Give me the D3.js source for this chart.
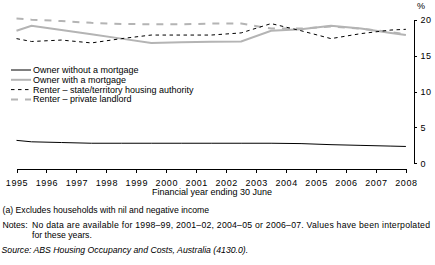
<!DOCTYPE html>
<html>
<head>
<meta charset="utf-8">
<script src="https://cdn.jsdelivr.net/npm/d3@7"></script>
<style>
  body { margin: 0; background: #fff; }
  svg { display: block; font-family: "Liberation Sans", Arial, sans-serif; }
  .axis path, .axis line { stroke: #000; stroke-width: 1; shape-rendering: crispEdges; }
  .axis text { font-size: 9px; fill: #000; }
</style>
</head>
<body>
<svg id="chart" width="435" height="265"></svg>
<script>
'use strict'

// data points sit mid-year apart from the two ends
const years = [1995, 1995.5, 1996.5, 1997.5, 1998.5, 1999.5, 2000.5, 2001.5, 2002.5, 2003.5, 2004.5, 2005.5, 2006.5, 2007.5, 2008]
const ownerNoMortgage = [3.2, 3.0, 2.9, 2.8, 2.8, 2.8, 2.8, 2.8, 2.8, 2.8, 2.75, 2.6, 2.5, 2.4, 2.35]
const ownerMortgage = [18.5, 19.2, 18.6, 18.0, 17.4, 16.8, 16.9, 16.95, 17.0, 18.5, 18.7, 19.2, 18.8, 18.2, 17.9]
const stateRenter = [17.4, 17.0, 17.2, 16.8, 17.4, 17.9, 17.9, 17.9, 18.2, 19.5, 18.5, 17.4, 18.1, 18.6, 18.7]
const privateRenter = [20.2, 20.05, 19.85, 19.6, 19.45, 19.4, 19.4, 19.5, 19.5, 18.8, 18.8, 19.1, 18.8, 18.3, 18.0]

const xTicks = d3.range(1995, 2009)
const yTicks = [0, 5, 10, 15, 20]

const seriesList = [
  { name: 'Owner without a mortgage', values: ownerNoMortgage, color: '#000', width: 1, dash: null },
  { name: 'Owner with a mortgage', values: ownerMortgage, color: '#b4b4b4', width: 2, dash: null },
  { name: 'Renter \u2013 state/territory housing authority', values: stateRenter, color: '#000', width: 1, dash: '3.5,3.5' },
  { name: 'Renter \u2013 private landlord', values: privateRenter, color: '#b4b4b4', width: 2, dash: '7,7' }
]

const svg = d3.select('#chart')

const x = d3.scaleLinear().domain([1995, 2008]).range([16.5, 405.9])
const y = d3.scaleLinear().domain([0, 20]).range([163.3, 20])

// x axis sits a little below the zero line
svg.append('g')
  .attr('class', 'axis')
  .attr('transform', 'translate(0,168.5)')
  .call(d3.axisBottom(x).tickValues(xTicks).tickFormat(d3.format('d')).tickSize(4).tickSizeOuter(0).tickPadding(7))
  .selectAll('text')
  .attr('letter-spacing', '0.6px')

svg.append('g')
  .attr('class', 'axis')
  .attr('transform', 'translate(413.5,0)')
  .call(d3.axisRight(y).tickValues(yTicks).tickSize(3).tickSizeOuter(0).tickPadding(4))
  .selectAll('text')
  .attr('letter-spacing', '0.6px')

svg.append('text')
  .attr('x', 417)
  .attr('y', 9)
  .style('font-size', '9px')
  .text('%')

const line = d3.line()
  .x((d, i) => x(years[i]))
  .y(d => y(d))

// draw grey ones first so the black lines sit on top
const drawOrder = [3, 1, 2, 0]
drawOrder.forEach(idx => {
  const s = seriesList[idx]
  svg.append('path')
    .datum(s.values)
    .attr('d', line)
    .attr('fill', 'none')
    .attr('stroke', s.color)
    .attr('stroke-width', s.width)
    .attr('stroke-dasharray', s.dash)
})

// legend
const legend = svg.append('g').attr('transform', 'translate(11,70)')
seriesList.forEach((s, i) => {
  const row = legend.append('g').attr('transform', `translate(0,${i * 9.8})`)
  row.append('line')
    .attr('x1', 0).attr('x2', 20)
    .attr('stroke', s.color)
    .attr('stroke-width', s.width)
    .attr('stroke-dasharray', s.dash)
  row.append('text')
    .attr('x', 22)
    .attr('y', 3)
    .style('font-size', '9px')
    .text(s.name)
})

svg.append('text')
  .attr('x', 212)
  .attr('y', 194.5)
  .attr('text-anchor', 'middle')
  .style('font-size', '9px')
  .text('Financial year ending 30 June')

const notes = svg.append('g').style('font-size', '8.7px')
notes.append('text').attr('x', 2.5).attr('y', 212.5)
  .text('(a) Excludes households with nil and negative income')
notes.append('text').attr('x', 2.5).attr('y', 227.5).text('Notes:')
notes.append('text').attr('x', 32).attr('y', 227.5)
  .attr('textLength', 398)
  .attr('lengthAdjust', 'spacing')
  .text('No data are available for 1998\u201399, 2001\u201302, 2004\u201305 or 2006\u201307. Values have been interpolated')
notes.append('text').attr('x', 32).attr('y', 238).text('for these years.')
notes.append('text').attr('x', 1.5).attr('y', 252.5)
  .style('font-style', 'italic')
  .text('Source: ABS Housing Occupancy and Costs, Australia (4130.0).')
</script>
</body>
</html>
